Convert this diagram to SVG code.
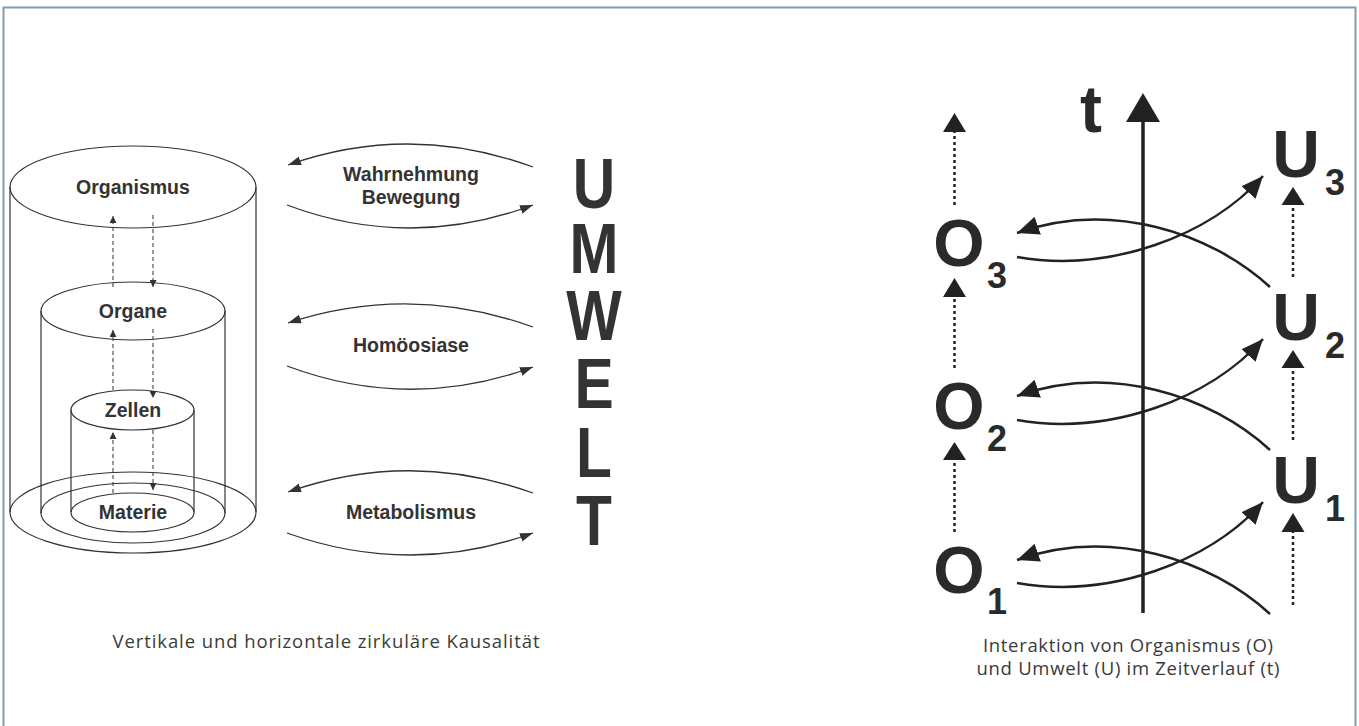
<svg xmlns="http://www.w3.org/2000/svg" width="1359" height="726" viewBox="0 0 1359 726">
<defs>
<style>
.frame{stroke:#7f9db6;stroke-width:2;fill:none}
.cyl{stroke:#333;stroke-width:1.2;fill:none}
.dash{stroke:#444;stroke-width:1.1;stroke-dasharray:4 3;fill:none}
.arc{stroke:#333;stroke-width:1.3;fill:none}
.lbl{font-family:"Liberation Sans",Arial,sans-serif;font-weight:bold;font-size:19.5px;fill:#333;text-anchor:middle}
.cap{font-family:"Open Sans","Liberation Sans",sans-serif;font-size:18.5px;fill:#3a3a3a;text-anchor:middle}
.big{font-family:"Liberation Sans",Arial,sans-serif;font-weight:bold;font-size:70px;fill:#333;text-anchor:middle}
.ou{font-family:"Liberation Sans",Arial,sans-serif;font-weight:bold;font-size:66px;fill:#2a2a2a;text-anchor:middle}
.sub{font-family:"Liberation Sans",Arial,sans-serif;font-weight:bold;font-size:36px;fill:#2a2a2a;text-anchor:middle}
.curve{stroke:#222;stroke-width:2.5;fill:none}
.dot{stroke:#222;stroke-width:2.5;stroke-dasharray:3 3;fill:none}
.head{fill:#222}
</style>
<marker id="sa" markerUnits="userSpaceOnUse" markerWidth="8" markerHeight="7" refX="7" refY="3.5" orient="auto">
<path d="M0,0 L7,3.5 L0,7 z" fill="#333"/>
</marker>
<marker id="ma" markerUnits="userSpaceOnUse" markerWidth="14" markerHeight="10" refX="13" refY="4.5" orient="auto">
<path d="M0,0 L13,4.5 L0,9 z" fill="#333"/>
</marker>
<marker id="ba" markerUnits="userSpaceOnUse" markerWidth="24" markerHeight="20" refX="22" refY="9.5" orient="auto">
<path d="M0,0 L22,9.5 L0,19 z" fill="#222"/>
</marker>
</defs>
<rect width="1359" height="726" fill="#fff"/>
<g id="frame">
<path class="frame" d="M3.5,726 V7.5 H1355.5 V726"/>
</g>

<g id="cylinder-organismus">
<ellipse class="cyl" cx="133" cy="187" rx="123" ry="41"/>
<line class="cyl" x1="10" y1="187" x2="10" y2="512"/>
<line class="cyl" x1="256" y1="187" x2="256" y2="512"/>
<ellipse class="cyl" cx="133" cy="512.5" rx="123" ry="40.5"/>
<text class="lbl" x="133" y="194">Organismus</text>
</g>
<g id="cylinder-organe">
<ellipse class="cyl" cx="133" cy="311" rx="92" ry="29"/>
<line class="cyl" x1="41" y1="311" x2="41" y2="513"/>
<line class="cyl" x1="225" y1="311" x2="225" y2="513"/>
<ellipse class="cyl" cx="133" cy="513" rx="92" ry="30"/>
<text class="lbl" x="133" y="318">Organe</text>
</g>
<g id="cylinder-zellen">
<ellipse class="cyl" cx="132.5" cy="410" rx="61.5" ry="20"/>
<line class="cyl" x1="71" y1="410" x2="71" y2="512"/>
<line class="cyl" x1="194" y1="410" x2="194" y2="512"/>
<text class="lbl" x="133" y="417">Zellen</text>
</g>
<g id="materie">
<ellipse class="cyl" cx="132.5" cy="512.5" rx="61.5" ry="19.5"/>
<text class="lbl" x="133" y="519">Materie</text>
</g>

<g id="vertical-connectors">
<line class="dash" x1="113" y1="287" x2="113" y2="216" marker-end="url(#sa)"/>
<line class="dash" x1="153" y1="215" x2="153" y2="287" marker-end="url(#sa)"/>
<line class="dash" x1="113" y1="390" x2="113" y2="330" marker-end="url(#sa)"/>
<line class="dash" x1="153" y1="329" x2="153" y2="398" marker-end="url(#sa)"/>
<line class="dash" x1="113" y1="493" x2="113" y2="432" marker-end="url(#sa)"/>
<line class="dash" x1="153" y1="430" x2="153" y2="490" marker-end="url(#sa)"/>
</g>

<g id="horizontal-connectors">
<path class="arc" d="M533,167 Q410,122 288,165" marker-end="url(#ma)"/>
<path class="arc" d="M287,205 Q410,251 533,205" marker-end="url(#ma)"/>
<path class="arc" d="M533,327 Q410,283 288,323" marker-end="url(#ma)"/>
<path class="arc" d="M287,366 Q410,412 533,367" marker-end="url(#ma)"/>
<path class="arc" d="M533,493 Q410,449 288,492" marker-end="url(#ma)"/>
<path class="arc" d="M287,533 Q410,577 533,533" marker-end="url(#ma)"/>
</g>
<g id="label-wahrnehmung">
<text class="lbl" x="411" y="181">Wahrnehmung</text>
<text class="lbl" x="411" y="204">Bewegung</text>
</g>
<g id="label-homoeosiase">
<text class="lbl" x="411" y="352">Homöosiase</text>
</g>
<g id="label-metabolismus">
<text class="lbl" x="411" y="519">Metabolismus</text>
</g>

<g id="umwelt">
<g transform="translate(594,0) scale(0.84,1)">
<text class="big" x="0" y="208">U<tspan x="0" y="273">M</tspan><tspan x="0" y="340">W</tspan><tspan x="0" y="408">E</tspan><tspan x="0" y="477">L</tspan><tspan x="0" y="545">T</tspan></text>
</g>
</g>

<text class="cap" x="326" y="648" textLength="427" lengthAdjust="spacing">Vertikale und horizontale zirkuläre Kausalität</text>

<g id="time-axis">
<line x1="1143" y1="613" x2="1143" y2="118" stroke="#222" stroke-width="3.5"/>
<polygon class="head" points="1143,93 1160,122 1126,122"/>
<text class="ou" x="1091" y="132">t</text>
</g>

<g id="O3"><text class="ou" x="959" y="266">O</text><text class="sub" x="997" y="288">3</text></g>
<g id="O2"><text class="ou" x="959" y="429">O</text><text class="sub" x="997" y="451">2</text></g>
<g id="O1"><text class="ou" x="959" y="593">O</text><text class="sub" x="997" y="614">1</text></g>
<g id="U3"><text class="ou" x="1296" y="177">U</text><text class="sub" x="1335" y="195">3</text></g>
<g id="U2"><text class="ou" x="1296" y="340">U</text><text class="sub" x="1335" y="358">2</text></g>
<g id="U1"><text class="ou" x="1296" y="503">U</text><text class="sub" x="1335" y="521">1</text></g>

<g id="time-connectors">
<line class="dot" x1="954.5" y1="205" x2="954.5" y2="130"/>
<polygon class="head" points="954.5,113 966,132 943,132"/>
<line class="dot" x1="954.5" y1="368" x2="954.5" y2="295"/>
<polygon class="head" points="954.5,278 966,297 943,297"/>
<line class="dot" x1="954.5" y1="532" x2="954.5" y2="458"/>
<polygon class="head" points="954.5,442 966,460 943,460"/>
<line class="dot" x1="1293" y1="277" x2="1293" y2="203"/>
<polygon class="head" points="1293,187 1304.5,205 1281.5,205"/>
<line class="dot" x1="1293" y1="440" x2="1293" y2="366"/>
<polygon class="head" points="1293,350 1304.5,368 1281.5,368"/>
<line class="dot" x1="1293" y1="605" x2="1293" y2="530"/>
<polygon class="head" points="1293,513 1304.5,532 1281.5,532"/>

<path class="curve" d="M1017,257 C1110,273 1210,236 1263,176" marker-end="url(#ba)"/>
<path class="curve" d="M1270,287 C1210,232 1110,200 1017,233" marker-end="url(#ba)"/>
<path class="curve" d="M1017,420 C1110,436 1210,399 1263,339" marker-end="url(#ba)"/>
<path class="curve" d="M1270,450 C1210,395 1110,363 1017,396" marker-end="url(#ba)"/>
<path class="curve" d="M1017,583 C1110,599 1210,562 1263,502" marker-end="url(#ba)"/>
<path class="curve" d="M1270,614 C1210,559 1110,527 1017,560" marker-end="url(#ba)"/>
</g>

<text class="cap" x="1128" y="652" textLength="290" lengthAdjust="spacing">Interaktion von Organismus (O)</text>
<text class="cap" x="1128" y="675" textLength="303" lengthAdjust="spacing">und Umwelt (U) im Zeitverlauf (t)</text>
</svg>
